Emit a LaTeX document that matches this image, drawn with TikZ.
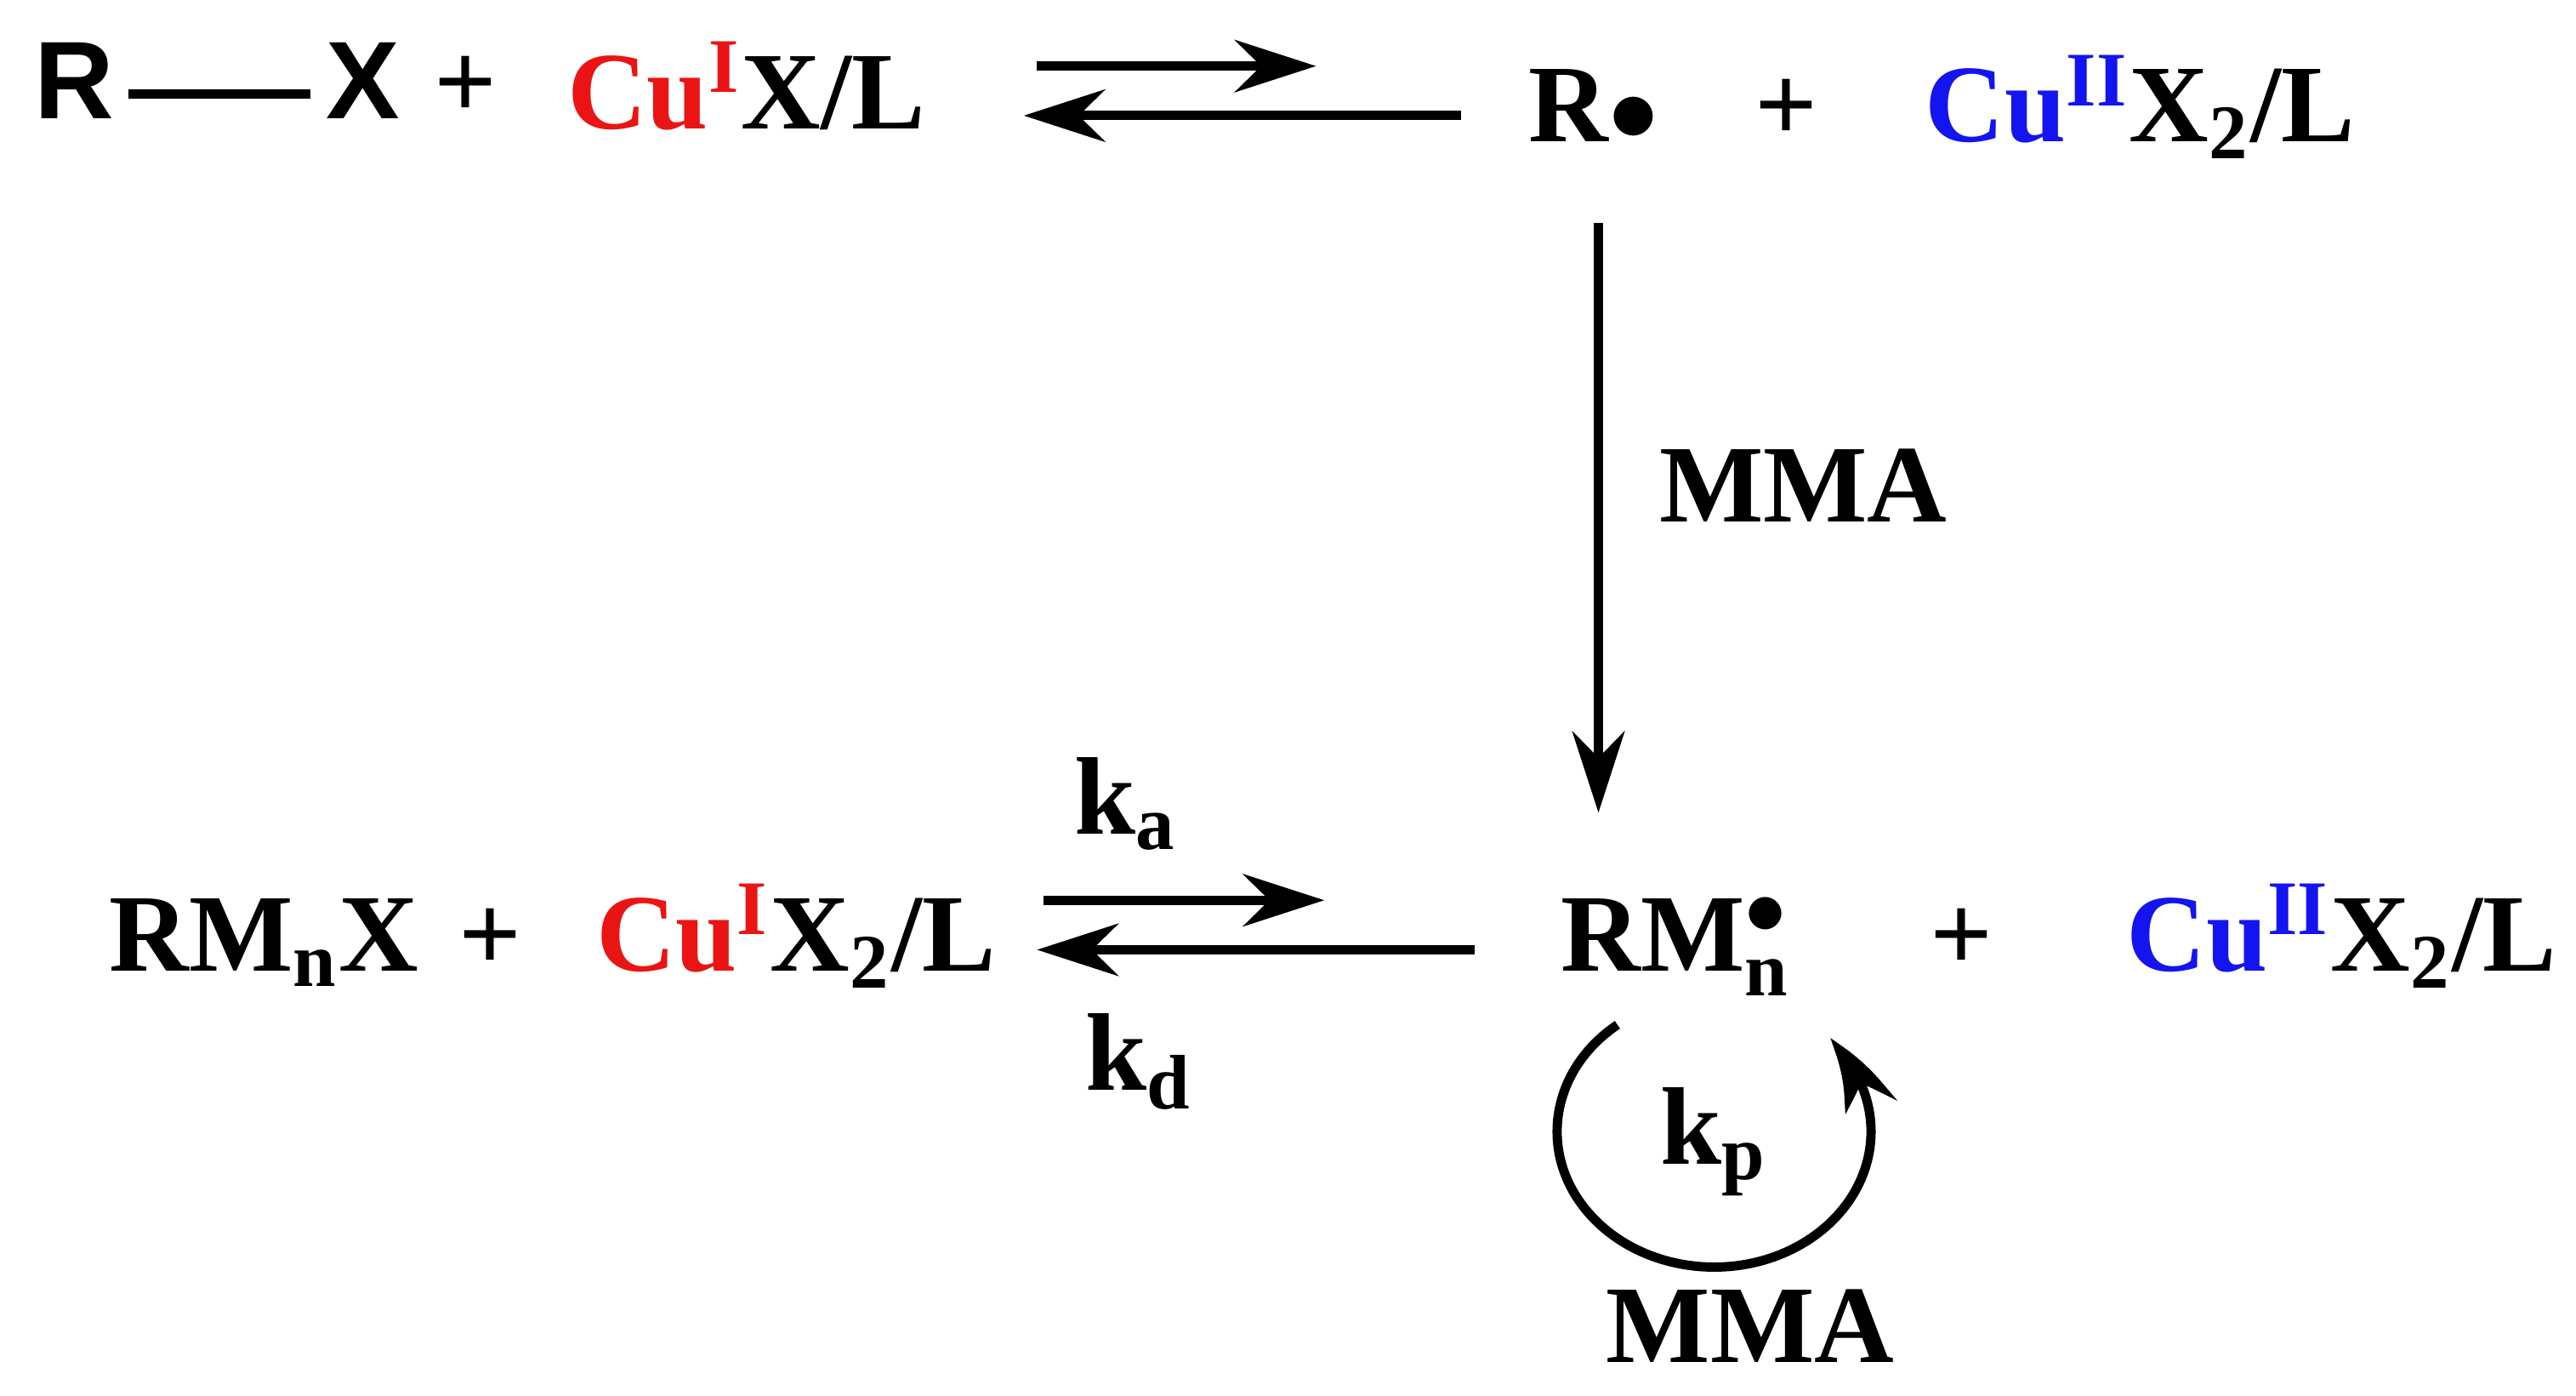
\documentclass[tikz,border=0pt]{standalone}
\usepackage{fontspec}
\setmainfont{Liberation Serif}
\newfontfamily\sansbf{Liberation Sans}
\usetikzlibrary{arrows.meta,bending}
\definecolor{cured}{RGB}{235,20,20}
\definecolor{cublue}{RGB}{20,20,240}
\tikzset{
  chem/.style={font=\fontsize{19}{22}\selectfont\bfseries, inner sep=0pt, anchor=base},
  rxn/.style={line width=1.6pt, -{Stealth[length=14pt,width=9pt]}},
}
\begin{document}
\begin{tikzpicture}[x=0.01cm,y=-0.01cm]
\useasboundingbox (0,0) rectangle (1560,845);
\begin{scope}[every node/.style={chem}]
    % top line
    \node (R) at (45,72) {\sansbf\bfseries R};
    \node (X) at (220,72) {\sansbf\bfseries X};
    \node (p1) at (282,72) {+};
    \node (CuA) at (452,78) {\textcolor{cured}{Cu$^{\mathbf{I}}$}X/L};
    \node (Rdot) at (965,86) {R$\bullet$};
    \node (p2) at (1082,86) {+};
    \node (CuB) at (1296,86) {\textcolor{cublue}{Cu$^{\mathbf{II}}$}X$_{\mathbf{2}}$/L};
    \node (MMA1) at (1092,316) {MMA};
    % bottom line
    \node (RMX) at (160,588) {RM$_{\mathbf{n}}$X};
    \node (p3) at (297,588) {+};
    \node (CuC) at (482,588) {\textcolor{cured}{Cu$^{\mathbf{I}}$}X$_{\mathbf{2}}$/L};
    \node (RMn) at (1015,588) {RM$_{\mathbf{n}}^{\bullet}$};
    \node (p4) at (1188,588) {+};
    \node (CuD) at (1418,588) {\textcolor{cublue}{Cu$^{\mathbf{II}}$}X$_{\mathbf{2}}$/L};
    \node (ka) at (682,505) {k$_{\mathbf{a}}$};
    \node (kd) at (690,660) {k$_{\mathbf{d}}$};
    \node (kp) at (1038,705) {k$_{\mathbf{p}}$};
    \node (MMA2) at (1060,825) {MMA};
\end{scope}

\coordinate (bL) at (78,57);
\coordinate (bR) at (188,57);
\draw[line width=1.6pt] (bL) -- (bR);

\coordinate (f1s) at (628,40);  \coordinate (f1e) at (797,40);
\coordinate (r1s) at (885,70);  \coordinate (r1e) at (620,70);
\draw[rxn] (f1s) -- (f1e);
\draw[rxn] (r1s) -- (r1e);

\coordinate (vs) at (968,135);  \coordinate (ve) at (968,492);
\draw[rxn] (vs) -- (ve);

\coordinate (f2s) at (632,545); \coordinate (f2e) at (802,545);
\coordinate (r2s) at (893,575); \coordinate (r2e) at (628,575);
\draw[rxn] (f2s) -- (f2e);
\draw[rxn] (r2s) -- (r2e);

\coordinate (ks) at (979.5,620.4);
\draw[rxn, -{Stealth[length=14pt,width=9pt,bend]}] (ks) arc[start angle=128, end angle=403, x radius=0.95cm, y radius=0.82cm];
\end{tikzpicture}
\end{document}
